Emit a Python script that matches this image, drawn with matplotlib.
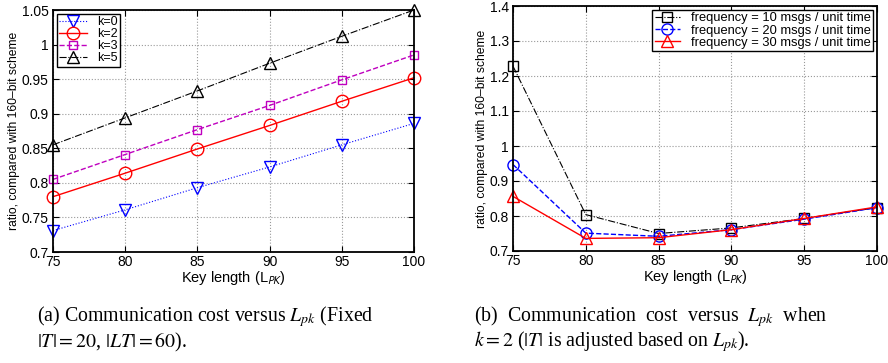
import matplotlib.pyplot as plt

plt.rcParams['font.family'] = ['Liberation Sans', 'DejaVu Sans']
plt.rcParams['mathtext.fontset'] = 'stix'

key_len = [75, 80, 85, 90, 95, 100]

# (a) fixed |T|, |LT|
k0 = [0.731, 0.761, 0.793, 0.823, 0.855, 0.886]
k2 = [0.780, 0.814, 0.849, 0.883, 0.918, 0.952]
k3 = [0.805, 0.841, 0.877, 0.912, 0.949, 0.985]
k5 = [0.855, 0.894, 0.933, 0.973, 1.012, 1.050]

# (b) k = 2, |T| adjusted
f10 = [1.228, 0.804, 0.750, 0.766, 0.793, 0.824]
f20 = [0.947, 0.751, 0.742, 0.761, 0.791, 0.824]
f30 = [0.856, 0.736, 0.738, 0.761, 0.793, 0.826]

fig = plt.figure(figsize=(8.88, 3.63), dpi=100)
W, H = 888, 363
ax1 = fig.add_axes([53 / W, 1 - 252 / H, (414 - 53) / W, (252 - 10) / H])
ax2 = fig.add_axes([513 / W, 1 - 251 / H, (877 - 513) / W, (251 - 6) / H])

mfc = 'none'
ax1.plot(key_len, k0, 'b:', marker='v', ms=9, mfc=mfc, lw=0.8, label='k=0', clip_on=False)
ax1.plot(key_len, k2, 'r-', marker='o', ms=9, mfc=mfc, lw=1.0, label='k=2', clip_on=False)
ax1.plot(key_len, k3, 'm--', marker='s', ms=6, mfc=mfc, lw=1.0, label='k=3', clip_on=False)
ax1.plot(key_len, k5, 'k-.', marker='^', ms=9, mfc=mfc, lw=0.8, label='k=5', clip_on=False)
ax1.set_ylim(0.7, 1.05)
ax1.set_yticks([0.7, 0.75, 0.8, 0.85, 0.9, 0.95, 1.0, 1.05])
ax1.set_yticklabels(['0.7', '0.75', '0.8', '0.85', '0.9', '0.95', '1', '1.05'])

ax2.plot(key_len, f10, 'k-.', marker='s', ms=7, mfc=mfc, lw=0.8, clip_on=False,
         label='frequency = 10 msgs / unit time')
ax2.plot(key_len, f20, 'b--', marker='o', ms=8, mfc=mfc, lw=1.0, clip_on=False,
         label='frequency = 20 msgs / unit time')
ax2.plot(key_len, f30, 'r-', marker='^', ms=8, mfc=mfc, lw=1.0, clip_on=False,
         label='frequency = 30 msgs / unit time')
ax2.set_ylim(0.7, 1.4)
ax2.set_yticks([0.7, 0.8, 0.9, 1.0, 1.1, 1.2, 1.3, 1.4])
ax2.set_yticklabels(['0.7', '0.8', '0.9', '1', '1.1', '1.2', '1.3', '1.4'])

for ax in (ax1, ax2):
    ax.set_xlim(75, 100)
    ax.set_xticks(key_len)
    ax.grid(True, ls=':', color='#999999', lw=0.8)
    ax.tick_params(direction='in', labelsize=10, top=True, right=True, length=4, pad=3)
    ax.tick_params(axis='x', pad=2)
    for s in ax.spines.values():
        s.set_linewidth(1.3)
    ax.set_xlabel('Key length (L$_{\\mathsf{PK}}$)', fontsize=10.5, labelpad=0)
    ax.set_ylabel('ratio, compared with 160\u2013bit scheme', fontsize=8.7, labelpad=1)

ax1.legend(loc='upper left', fontsize=9, fancybox=False, edgecolor='k',
           framealpha=1, borderpad=0.2, labelspacing=0.0, handlelength=2.2,
           borderaxespad=0.3).get_frame().set_linewidth(1.0)
ax2.legend(loc='upper right', fontsize=9.3, fancybox=False, edgecolor='k',
           framealpha=1, borderpad=0.2, labelspacing=0.0, handlelength=2.0,
           borderaxespad=0.3).get_frame().set_linewidth(1.0)

cap = dict(fontsize=14.3, family=['Liberation Serif', 'DejaVu Serif'], va='center', ha='left')
fig.text(37 / W, 1 - 317 / H, '(a) Communication cost versus $L_{pk}$ (Fixed', **cap)
fig.text(37 / W, 1 - 342 / H, '$|T|=20$, $|LT|=60$).', **cap)
fig.text(474 / W, 1 - 317 / H, '(b)  Communication  cost  versus  $L_{pk}$  when', **cap)
fig.text(474 / W, 1 - 342 / H, '$k=2$ ($|T|$ is adjusted based on $L_{pk}$).', **cap)

fig.savefig('out.png', dpi=100)
